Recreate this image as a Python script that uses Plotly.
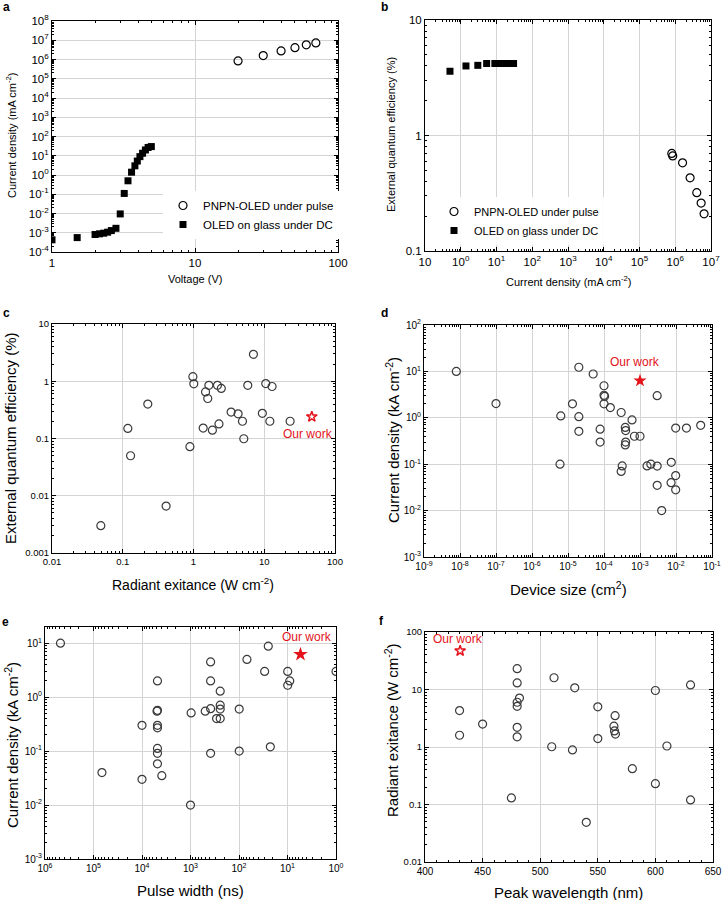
import plotly.graph_objects as go

FONT = "Arial, 'Liberation Sans', Helvetica, sans-serif"
W, H = 724, 900
RED = "#e3121b"
GRAY = "#3a3a3a"

# ---------------- data ----------------
# Panel a: J-V
a_pulse_v = [20, 30, 40, 50, 60, 70]
a_pulse_j = [8.4e5, 1.6e6, 2.8e6, 4.1e6, 5.8e6, 7.3e6]
a_dc_v = [1.0, 1.5, 2.0, 2.15, 2.3, 2.45, 2.6, 2.8, 3.0, 3.2, 3.4, 3.6, 3.8, 3.95, 4.12, 4.3, 4.5, 4.7, 4.95]
a_dc_j = [4.3e-4, 5.6e-4, 8.1e-4, 8.8e-4, 9.5e-4, 1.07e-3, 1.3e-3, 1.7e-3, 9.5e-3, 0.11, 0.5, 1.4,
          3.0, 5.3, 9.0, 13.5, 20, 27, 30]

# Panel b: EQE-J
b_pulse_j = [8.0e5, 8.5e5, 1.6e6, 2.6e6, 4.0e6, 5.3e6, 6.4e6]
b_pulse_eqe = [0.70, 0.665, 0.58, 0.43, 0.32, 0.26, 0.21]
b_dc_j = [0.5, 1.4, 3.0, 5.3, 9.0, 13.5, 20, 27, 30]
b_dc_eqe = [3.6, 4.0, 4.05, 4.2, 4.2, 4.2, 4.2, 4.2, 4.2]

# Panel c: EQE vs radiant exitance
c_rad = [0.049, 0.118, 0.129, 0.226, 0.41, 0.89, 0.98, 1.01, 1.37, 1.48, 1.59, 1.65, 1.85, 2.18,
         2.29, 2.47, 3.4, 4.27, 4.92, 5.14, 5.85, 7.03, 9.4, 10.5, 12.0, 12.9, 23.2]
c_eqe = [0.003, 0.15, 0.05, 0.40, 0.0066, 0.072, 1.2, 0.9, 0.152, 0.65, 0.50, 0.85, 0.14, 0.85,
         0.18, 0.75, 0.29, 0.27, 0.20, 0.099, 0.85, 2.95, 0.275, 0.91, 0.20, 0.81, 0.20]
c_our_rad = [47]
c_our_eqe = [0.24]

# Panel d: current density vs device size
d_size = [7.9e-9, 1e-7, 6.3e-6, 6e-6, 1.33e-5, 2e-5, 2e-5, 2e-5, 5e-5, 7.8e-5, 7.8e-5, 1e-4, 1e-4,
          1.04e-4, 1e-4, 1.5e-4, 3e-4, 3.2e-4, 3e-4, 3.9e-4, 4e-4, 4e-4, 3.9e-4, 6e-4, 7e-4, 1e-3,
          1.57e-3, 2e-3, 3e-3, 3e-3, 3e-3, 4e-3, 7.4e-3, 7.3e-3, 9.8e-3, 9.8e-3, 9.8e-3, 1.95e-2, 4.85e-2]
d_j = [10, 2.03, 1.1, 0.1, 2.0, 12.3, 1.06, 0.51, 8.8, 0.57, 0.30, 4.9, 3.06,
       2.9, 2.0, 1.66, 1.3, 0.092, 0.07, 0.62, 0.53, 0.30, 0.26, 0.9, 0.40, 0.40,
       0.092, 0.1, 3.0, 0.091, 0.035, 0.01, 0.11, 0.04, 0.6, 0.057, 0.028, 0.6, 0.69]
d_our_size = [1e-3]
d_our_j = [6.3]

# Panel e: current density vs pulse width
e_pw = [4.8e5, 6.7e4, 1e4, 1e4, 4.8e3, 4.8e3, 4.9e3, 4.8e3, 4.8e3, 4.8e3, 4.8e3, 4.8e3, 3.9e3,
        970, 1e3, 497, 385, 385, 385, 385, 290, 244, 244, 244, 244, 99, 99, 68.6, 29.6, 24.9,
        22.6, 9.9, 9.9, 9.0, 1.0]
e_j = [10, 0.04, 0.30, 0.030, 2.0, 0.57, 0.55, 0.30, 0.27, 0.112, 0.091, 0.058, 0.035,
       0.51, 0.01, 0.55, 4.5, 2.0, 0.61, 0.091, 0.40, 1.29, 0.71, 0.60, 0.40, 0.60, 0.10, 5.0, 3.0, 8.8,
       0.12, 3.0, 1.66, 2.0, 3.0]
e_our_pw = [5.4]
e_our_j = [6.2]

# Panel f: radiant exitance vs peak wavelength
f_wl = [430, 430, 450, 475, 480, 480, 480, 480, 482, 480, 480, 510, 512, 528, 530, 540, 550, 550,
        564, 565, 564.5, 565.3, 580, 600, 600, 610, 630.5, 630.5]
f_rad = [4.3, 1.6, 2.5, 0.13, 23, 13, 6.0, 5.1, 7.1, 2.2, 1.5, 1.01, 16, 0.89, 10.7, 0.049, 5.0, 1.4,
         2.3, 3.5, 1.9, 1.68, 0.42, 9.6, 0.23, 1.04, 12, 0.12]
f_our_wl = [430.5]
f_our_rad = [47]

LEG_PULSE = "PNPN-OLED under pulse"
LEG_DC = "OLED on glass under DC"

# tick label sets
dec_c_x = ["0.01", "0.1", "1", "10", "100"]
dec_c_y = ["0.001", "0.01", "0.1", "1", "10"]
dec_f_y = ["0.01", "0.1", "1", "10", "100"]

# ---------------- figure ----------------
fig = go.Figure()

def px_x(p):
    return p / W

def px_y(p):
    return 1 - p / H

def dom(l, r, t, b):
    return [px_x(l), px_x(r)], [px_y(b), px_y(t)]

panels = {
    "a": dom(52, 338, 21, 252),
    "b": dom(425, 711, 20, 251),
    "c": dom(52, 335, 324, 553),
    "d": dom(424, 712, 325, 557),
    "e": dom(45, 336, 627, 859),
    "f": dom(425, 713, 632, 862),
}

open_circle = dict(symbol="circle-open", size=8, color=GRAY, line=dict(width=1.2, color=GRAY))

# a
fig.add_trace(go.Scatter(x=a_pulse_v, y=a_pulse_j, mode="markers", name=LEG_PULSE,
                         marker=dict(symbol="circle-open", size=8, color="black", line=dict(width=1.2)),
                         xaxis="x", yaxis="y", legend="legend"))
fig.add_trace(go.Scatter(x=a_dc_v, y=a_dc_j, mode="markers", name=LEG_DC,
                         marker=dict(symbol="square", size=7, color="black"),
                         xaxis="x", yaxis="y", legend="legend"))
# b
fig.add_trace(go.Scatter(x=b_pulse_j, y=b_pulse_eqe, mode="markers", name=LEG_PULSE,
                         marker=dict(symbol="circle-open", size=8, color="black", line=dict(width=1.2)),
                         xaxis="x2", yaxis="y2", legend="legend2"))
fig.add_trace(go.Scatter(x=b_dc_j, y=b_dc_eqe, mode="markers", name=LEG_DC,
                         marker=dict(symbol="square", size=7, color="black"),
                         xaxis="x2", yaxis="y2", legend="legend2"))
# c
fig.add_trace(go.Scatter(x=c_rad, y=c_eqe, mode="markers", marker=open_circle, showlegend=False,
                         xaxis="x3", yaxis="y3"))
fig.add_trace(go.Scatter(x=c_our_rad, y=c_our_eqe, mode="markers", showlegend=False,
                         marker=dict(symbol="star-open", size=8, color=RED, line=dict(width=1.5, color=RED)),
                         xaxis="x3", yaxis="y3"))
# d
fig.add_trace(go.Scatter(x=d_size, y=d_j, mode="markers", marker=open_circle, showlegend=False,
                         xaxis="x4", yaxis="y4"))
fig.add_trace(go.Scatter(x=d_our_size, y=d_our_j, mode="markers", showlegend=False,
                         marker=dict(symbol="star", size=10, color=RED),
                         xaxis="x4", yaxis="y4"))
# e
fig.add_trace(go.Scatter(x=e_pw, y=e_j, mode="markers", marker=open_circle, showlegend=False,
                         xaxis="x5", yaxis="y5"))
fig.add_trace(go.Scatter(x=e_our_pw, y=e_our_j, mode="markers", showlegend=False,
                         marker=dict(symbol="star", size=11, color=RED),
                         xaxis="x5", yaxis="y5"))
# f
fig.add_trace(go.Scatter(x=f_wl, y=f_rad, mode="markers", marker=open_circle, showlegend=False,
                         xaxis="x6", yaxis="y6"))
fig.add_trace(go.Scatter(x=f_our_wl, y=f_our_rad, mode="markers", showlegend=False,
                         marker=dict(symbol="star-open", size=8, color=RED, line=dict(width=1.5, color=RED)),
                         xaxis="x6", yaxis="y6"))


def axis(domain, anchor, typ="log", rng=None, fs=9, minor_dtick="D1", **kw):
    d = dict(domain=domain, anchor=anchor, type=typ, range=rng, automargin=False,
             showline=True, linecolor="black", linewidth=1, mirror="ticks",
             ticks="inside", ticklen=4, tickcolor="black", tickwidth=1,
             showgrid=True, gridcolor="#d4d4d4", gridwidth=1, zeroline=False,
             tickfont=dict(size=fs, color="black", family=FONT),
             minor=dict(ticks="inside", ticklen=2, tickcolor="black", showgrid=False, dtick=minor_dtick))
    d.update(kw)
    return d

def pow_axis(domain, anchor, lo, hi, fs=9, rng=None, **kw):
    vals = [10.0 ** k for k in range(lo, hi + 1)]
    txt = ["10<sup>%d</sup>" % k for k in range(lo, hi + 1)]
    return axis(domain, anchor, rng=rng if rng is not None else [lo, hi], fs=fs,
                tickmode="array", tickvals=vals, ticktext=txt, **kw)

def dec_axis(domain, anchor, lo, labels, fs=9, **kw):
    vals = [10.0 ** (lo + i) for i in range(len(labels))]
    return axis(domain, anchor, rng=[lo, lo + len(labels) - 1], fs=fs,
                tickmode="array", tickvals=vals, ticktext=labels, **kw)

xa, ya = panels["a"]
xb, yb = panels["b"]
xc, yc = panels["c"]
xd, yd = panels["d"]
xe, ye = panels["e"]
xf, yf = panels["f"]

b_xticks = ["10"] + ["10<sup>%d</sup>" % k for k in range(0, 8)]

layout = dict(
    width=W, height=H, autosize=False,
    margin=dict(l=0, r=0, t=0, b=0, pad=0, autoexpand=False),
    paper_bgcolor="white", plot_bgcolor="white",
    font=dict(family=FONT, color="black"),
    xaxis=dec_axis(xa, "y", 0, ["1", "10", "100"], fs=11.5),
    yaxis=pow_axis(ya, "x", -4, 8, fs=11.5),
    xaxis2=axis(xb, "y2", rng=[-1, 7], fs=11.5, tickmode="array",
                tickvals=[10.0 ** k for k in range(-1, 8)], ticktext=b_xticks),
    yaxis2=dec_axis(yb, "x2", -1, ["0.1", "1", "10"], fs=11.5),
    xaxis3=dec_axis(xc, "y3", -2, dec_c_x, fs=9.5),
    yaxis3=dec_axis(yc, "x3", -3, dec_c_y, fs=9.5),
    xaxis4=pow_axis(xd, "y4", -9, -1, fs=10),
    yaxis4=pow_axis(yd, "x4", -3, 2, fs=10),
    xaxis5=pow_axis(xe, "y5", 0, 6, fs=10, rng=[6, 0]),
    yaxis5=pow_axis(ye, "x5", -3, 1, fs=10, rng=[-3, 1.3]),
    xaxis6=axis(xf, "y6", typ="linear", rng=[400, 650], fs=10, minor_dtick=10,
                tickmode="linear", tick0=400, dtick=50),
    yaxis6=dec_axis(yf, "x6", -2, dec_f_y, fs=9.5),
    legend=dict(x=px_x(163), y=px_y(191), xanchor="left", yanchor="top", bgcolor="white",
                borderwidth=0, font=dict(size=11.5, family=FONT), itemwidth=30, tracegroupgap=0),
    legend2=dict(x=px_x(434), y=px_y(197), xanchor="left", yanchor="top", bgcolor="rgba(255,255,255,0.9)",
                 borderwidth=0, font=dict(size=11, family=FONT), itemwidth=30, tracegroupgap=0),
)
fig.update_layout(**layout)

ann = []

def text(px, py, s, size, angle=0, color="black", bold=False, anchor="center"):
    ann.append(dict(x=px_x(px), y=px_y(py), xref="paper", yref="paper", text=("<b>%s</b>" % s) if bold else s,
                    showarrow=False, textangle=angle, xanchor=anchor, yanchor="middle",
                    font=dict(size=size, color=color, family=FONT)))

# panel letters
text(6, 7, "a", 12, bold=True)
text(384, 7, "b", 12, bold=True)
text(6, 313, "c", 12, bold=True)
text(384, 313, "d", 12, bold=True)
text(5, 622, "e", 12, bold=True)
text(381, 621, "f", 12, bold=True)

# axis titles
text(195, 279, "Voltage (V)", 11)
text(11, 136, "Current density (mA cm<sup>-2</sup>)", 11, angle=-90)
text(568, 281, "Current density (mA cm<sup>-2</sup>)", 11)
text(391, 135, "External quantum efficiency (%)", 11, angle=-90)

text(193, 584, "Radiant exitance (W cm<sup>-2</sup>)", 14)
text(10, 438, "External quantum efficiency (%)", 15, angle=-90)
text(568, 588, "Device size (cm<sup>2</sup>)", 15)
text(392, 440, "Current density (kA cm<sup>-2</sup>)", 15, angle=-90)
text(190, 890, "Pulse width (ns)", 15)
text(11, 745, "Current density (kA cm<sup>-2</sup>)", 15, angle=-90)
text(568, 892, "Peak wavelength (nm)", 15)
text(391, 730, "Radiant exitance (W cm<sup>-2</sup>)", 15, angle=-90)

# "Our work" labels
text(308, 434, "Our work", 12, color=RED)
text(635, 362, "Our work", 12, color=RED)
text(307, 637, "Our work", 12, color=RED)
text(458, 639, "Our work", 12, color=RED)

fig.update_layout(annotations=ann)
fig.write_html("out.html", config={"responsive": False, "displayModeBar": False},
               post_script="document.body.style.margin='0';document.body.style.padding='0';"
                           "document.body.style.overflow='hidden';")
